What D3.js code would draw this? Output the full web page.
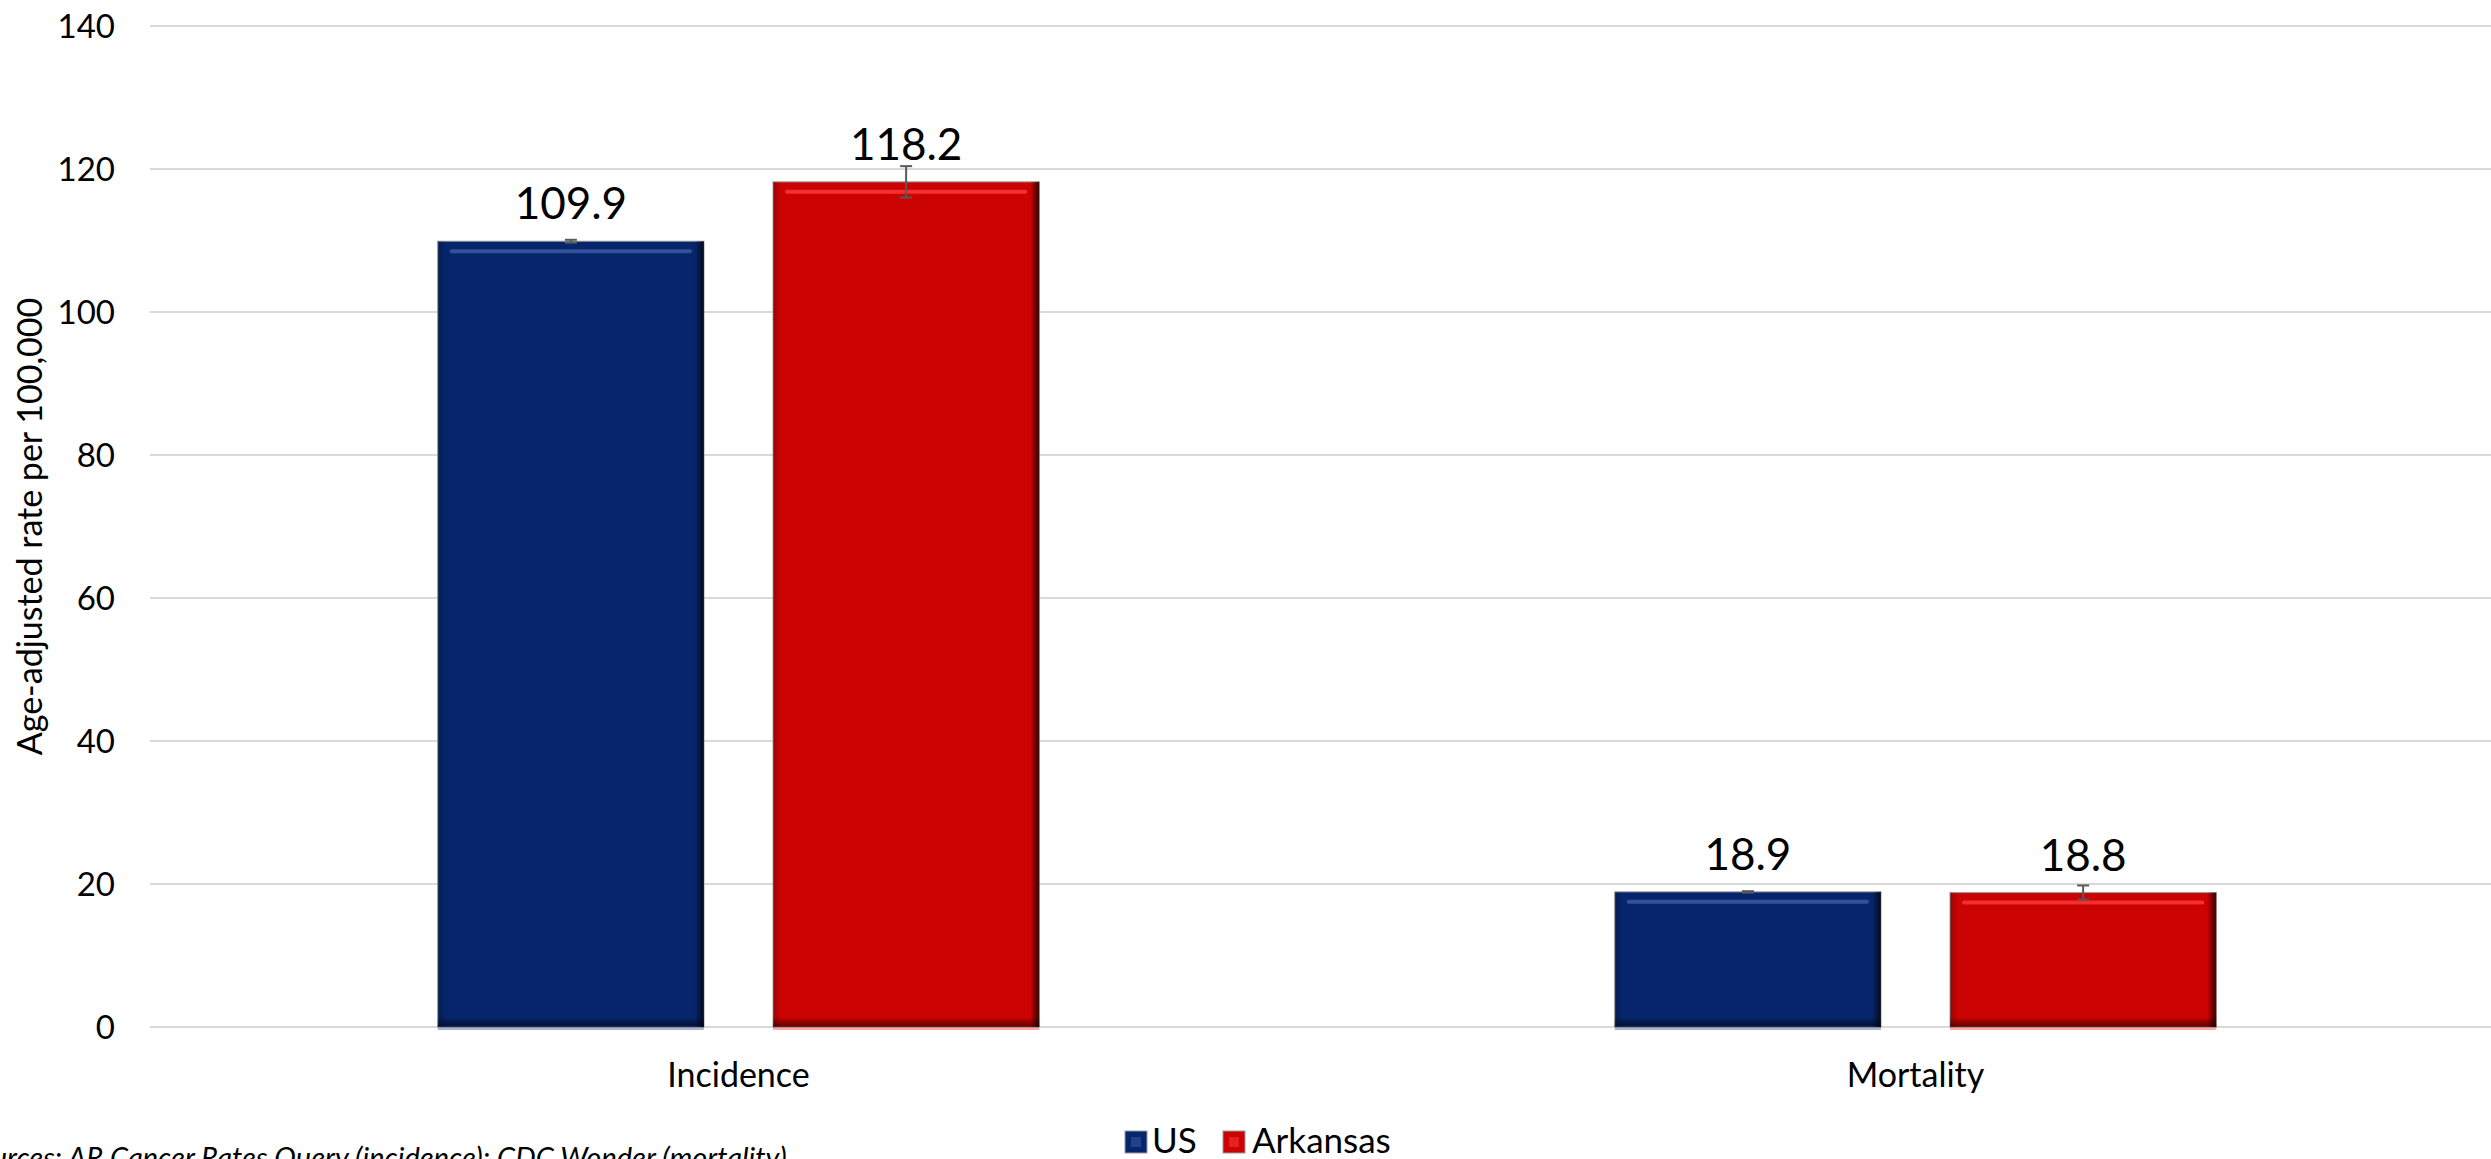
<!DOCTYPE html>
<html>
<head>
<meta charset="utf-8">
<script src="https://cdn.jsdelivr.net/npm/d3@7"></script>
<style>
  html, body { margin: 0; padding: 0; background: #fff; overflow: hidden; }
  text { font-family: Lato, "Open Sans", "Liberation Sans", sans-serif; fill: #000; }
</style>
</head>
<body>
<svg id="chart" width="2491" height="1159"></svg>
<script>
// ---- data ----
const categories = ["Incidence", "Mortality"];
const seriesNames = ["US", "Arkansas"];
const usValues = [109.9, 18.9];
const arkansasValues = [118.2, 18.8];
const usLower = [109.7, 18.8];
const usUpper = [110.1, 19.0];
const arkansasLower = [116.0, 17.8];
const arkansasUpper = [120.4, 19.8];
const yTicks = [0, 20, 40, 60, 80, 100, 120, 140];
const yTitle = "Age-adjusted rate per 100,000";
const sourceNote = ["Sources: ", "AR Cancer Rates Query (incidence); CDC Wonder (mortality)"];

const seriesColors = { "US": "#07256c", "Arkansas": "#cc0303" };
const seriesLight = { "US": "#3b5ea6", "Arkansas": "#ff3b3b" };

const rows = categories.map((c, i) => ({
  category: c,
  bars: [
    { series: "US", value: usValues[i], lo: usLower[i], hi: usUpper[i] },
    { series: "Arkansas", value: arkansasValues[i], lo: arkansasLower[i], hi: arkansasUpper[i] }
  ]
}));

const svg = d3.select("#chart");
const W = 2491, H = 1159;
const plotLeft = 150, plotRight = 2504, plotTop = 26, plotBottom = 1027;

const x0 = d3.scaleBand().domain(categories).range([plotLeft, plotRight]).paddingInner(0).paddingOuter(0);
const groupW = x0.bandwidth() * 0.511;
const x1 = d3.scaleBand().domain(seriesNames)
  .range([(x0.bandwidth() - groupW) / 2, (x0.bandwidth() + groupW) / 2])
  .paddingInner(0.206).paddingOuter(0);
const y = d3.scaleLinear().domain([0, 140]).range([plotBottom, plotTop]);

// defs for bevel shading
const defs = svg.append("defs");
const gR = defs.append("linearGradient").attr("id", "shadeRight").attr("x1", 0).attr("x2", 1).attr("y1", 0).attr("y2", 0);
gR.append("stop").attr("offset", "0%").attr("stop-color", "#000").attr("stop-opacity", 0);
gR.append("stop").attr("offset", "100%").attr("stop-color", "#000").attr("stop-opacity", 0.75);
const gL = defs.append("linearGradient").attr("id", "shadeLeft").attr("x1", 1).attr("x2", 0).attr("y1", 0).attr("y2", 0);
gL.append("stop").attr("offset", "0%").attr("stop-color", "#000").attr("stop-opacity", 0);
gL.append("stop").attr("offset", "100%").attr("stop-color", "#000").attr("stop-opacity", 0.25);
const gB = defs.append("linearGradient").attr("id", "shadeBottom").attr("x1", 0).attr("x2", 0).attr("y1", 0).attr("y2", 1);
gB.append("stop").attr("offset", "0%").attr("stop-color", "#000").attr("stop-opacity", 0);
gB.append("stop").attr("offset", "100%").attr("stop-color", "#000").attr("stop-opacity", 0.55);

// gridlines
svg.append("g").selectAll("line").data(yTicks).join("line")
  .attr("x1", plotLeft).attr("x2", W)
  .attr("y1", d => y(d)).attr("y2", d => y(d))
  .attr("stroke", "#d9d9d9").attr("stroke-width", 2);

// y axis tick labels
const yAxis = d3.axisLeft(y).tickValues(yTicks).tickSize(0).tickPadding(0);
const yg = svg.append("g").attr("transform", "translate(115,0)").call(yAxis);
yg.select(".domain").remove();
yg.selectAll("text").attr("font-size", 33).attr("font-family", "Lato, sans-serif").attr("fill", "#000").attr("dy", "0.36em");

// y title
svg.append("text")
  .attr("transform", `translate(42,${(plotTop + plotBottom) / 2}) rotate(-90)`)
  .attr("text-anchor", "middle")
  .attr("font-size", 34)
  .text(yTitle);

// bars
const groups = svg.append("g").selectAll("g.cat").data(rows).join("g")
  .attr("class", "cat")
  .attr("transform", d => `translate(${x0(d.category)},0)`);

const bar = groups.selectAll("g.bar").data(d => d.bars).join("g").attr("class", "bar");

bar.append("rect")
  .attr("x", d => x1(d.series)).attr("y", d => y(d.value))
  .attr("width", x1.bandwidth()).attr("height", d => y(0) - y(d.value))
  .attr("fill", d => seriesColors[d.series])
  .attr("stroke", "#9a9a9a").attr("stroke-width", 1);
// reflection strip under bar
bar.append("rect")
  .attr("x", d => x1(d.series)).attr("y", y(0))
  .attr("width", x1.bandwidth()).attr("height", 3)
  .attr("fill", d => seriesLight[d.series]).attr("opacity", 0.45);
// left soft shade
bar.append("rect")
  .attr("x", d => x1(d.series)).attr("y", d => y(d.value))
  .attr("width", 8).attr("height", d => y(0) - y(d.value))
  .attr("fill", "url(#shadeLeft)");
// right dark edge
bar.append("rect")
  .attr("x", d => x1(d.series) + x1.bandwidth() - 9).attr("y", d => y(d.value))
  .attr("width", 9).attr("height", d => y(0) - y(d.value))
  .attr("fill", "url(#shadeRight)");
// bottom dark edge
bar.append("rect")
  .attr("x", d => x1(d.series)).attr("y", y(0) - 10)
  .attr("width", x1.bandwidth()).attr("height", 10)
  .attr("fill", "url(#shadeBottom)");
// top highlight
bar.append("rect")
  .attr("x", d => x1(d.series) + 12).attr("y", d => y(d.value) + 8)
  .attr("width", x1.bandwidth() - 24).attr("height", 4).attr("rx", 2)
  .attr("fill", d => seriesLight[d.series]).attr("opacity", 0.8);

// error bars
const cx = d => x1(d.series) + x1.bandwidth() / 2;
bar.append("line")
  .attr("x1", cx).attr("x2", cx)
  .attr("y1", d => y(d.hi)).attr("y2", d => y(d.lo))
  .attr("stroke", "#595959").attr("stroke-width", 2);
bar.selectAll("line.cap").data(d => [{ d, v: d.hi }, { d, v: d.lo }]).join("line")
  .attr("class", "cap")
  .attr("x1", o => cx(o.d) - 6).attr("x2", o => cx(o.d) + 6)
  .attr("y1", o => y(o.v)).attr("y2", o => y(o.v))
  .attr("stroke", "#595959").attr("stroke-width", 2);

// value labels
bar.append("text")
  .attr("class", "vlabel")
  .attr("x", cx).attr("y", d => y(d.value) - 22)
  .attr("text-anchor", "middle")
  .attr("font-size", 44)
  .text(d => d.value.toFixed(1));

// category labels
svg.append("g").selectAll("text").data(categories).join("text")
  .attr("x", d => x0(d) + x0.bandwidth() / 2).attr("y", 1087)
  .attr("text-anchor", "middle").attr("font-size", 34)
  .text(d => d);

// legend
const legend = svg.append("g");
const legendItems = [
  { name: seriesNames[0], x: 1125, tx: 1152 },
  { name: seriesNames[1], x: 1223, tx: 1252 }
];
const li = legend.selectAll("g").data(legendItems).join("g");
li.append("rect").attr("x", d => d.x).attr("y", 1131).attr("width", 22).attr("height", 22)
  .attr("fill", d => seriesColors[d.name]).attr("stroke", "#9a9a9a").attr("stroke-width", 1);
li.append("rect").attr("x", d => d.x + 6).attr("y", 1137).attr("width", 10).attr("height", 10)
  .attr("fill", d => seriesLight[d.name]).attr("opacity", 0.5);
li.append("text").attr("x", d => d.tx).attr("y", 1153).attr("font-size", 35).text(d => d.name);

// source note (partially cut off at the bottom/left, as in the original)
const src = svg.append("text").attr("y", 1168).attr("font-size", 29).attr("font-style", "italic").attr("fill", "#222");
const t1 = src.append("tspan").text(sourceNote[0]);
src.append("tspan").text(sourceNote[1]);
const pre = t1.node().getComputedTextLength();
src.attr("x", 68 - pre);
</script>
</body>
</html>
